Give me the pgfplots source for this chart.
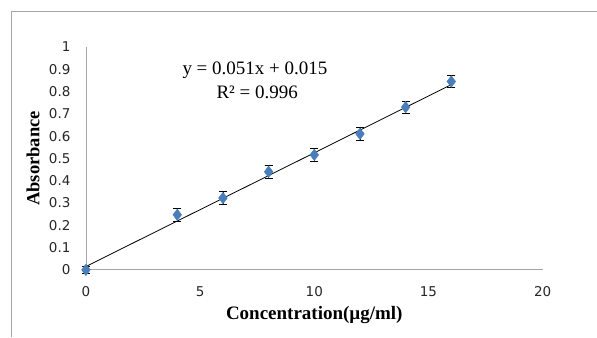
\documentclass[border=0pt]{standalone}
\usepackage{pgfplots}
\pgfplotsset{compat=1.18}
\usepackage{fontspec}
\setmainfont{Liberation Serif}
\newfontfamily\ticksf{DejaVu Sans}
\definecolor{ptblue}{HTML}{4A7EBB}
\definecolor{axgray}{HTML}{A6A6A6}
\begin{document}
\begin{tikzpicture}
\path (-86pt,-67pt) rectangle (511pt,270pt);
\draw[axgray, line width=0.8pt] (-75pt,-67pt) -- (-75pt,259pt) -- (511pt,259pt);
\begin{axis}[
  scale only axis,
  width=457pt, height=223pt,
  xmin=0, xmax=20, ymin=0, ymax=1,
  axis x line*=bottom, axis y line*=left,
  axis line style={axgray, line width=0.8pt, -},
  xtick={0,5,10,15,20},
  ytick={0,0.1,0.2,0.3,0.4,0.5,0.6,0.7,0.8,0.9,1},
  major tick length=0pt,
  /pgf/number format/assume math mode=true,
  yticklabel style={/pgf/number format/fixed, /pgf/number format/precision=1, font=\ticksf\fontsize{13.5}{15}\selectfont, color=black!85, anchor=east, xshift=-12pt},
  xticklabel style={font=\ticksf\fontsize{13.5}{15}\selectfont, color=black!85, anchor=center, yshift=-22pt},
  every axis y label/.style={at={(axis description cs:0,0.5)}, xshift=-53pt, rotate=90, anchor=center},
  every axis x label/.style={at={(axis description cs:0.5,0)}, yshift=-45pt, anchor=center},
  ylabel={\bfseries\fontsize{18.5}{20}\selectfont Absorbance},
  xlabel={\bfseries\fontsize{19}{21}\selectfont Concentration(µg/ml)},
  clip=false,
]
\addplot[black, line width=0.8pt] coordinates {(0,0.015) (16,0.831)};
\addplot[only marks, mark=diamond*, mark size=5.8pt, mark options={fill=ptblue, draw=ptblue},
  error bars/.cd, y dir=both, y explicit,
  error bar style={black, line width=0.9pt},
  error mark options={rotate=90, mark size=4pt, black, line width=0.9pt}]
  coordinates {
  (0,0) +- (0,0.015)
  (4,0.247) +- (0,0.03)
  (6,0.322) +- (0,0.03)
  (8,0.440) +- (0,0.03)
  (10,0.516) +- (0,0.028)
  (12,0.610) +- (0,0.03)
  (14,0.730) +- (0,0.027)
  (16,0.845) +- (0,0.026)
  };
\node[font=\fontsize{19}{21}\selectfont] at (axis cs:7.4,0.897) {y = 0.051x + 0.015};
\node[font=\fontsize{19}{21}\selectfont] at (axis cs:7.5,0.795) {R² = 0.996};
\end{axis}
\end{tikzpicture}
\end{document}
